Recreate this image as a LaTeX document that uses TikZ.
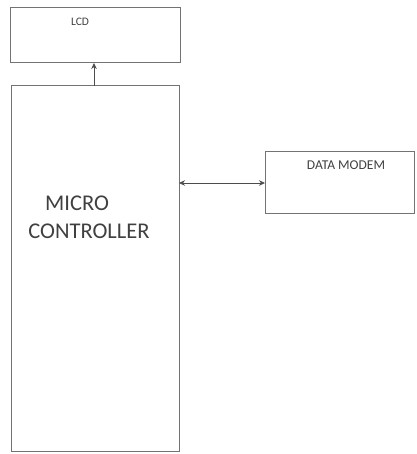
\documentclass[tikz,border=0pt]{standalone}
\usepackage{fontspec}
\setmainfont{Carlito}
\usetikzlibrary{arrows.meta}
\begin{document}
\begin{tikzpicture}[x=1pt,y=-1pt,
  blk/.style={draw=black!55,line width=1pt},
  lbl/.style={text=black!75,inner sep=0pt},
  conn/.style={draw=black!70,line width=0.6pt,-{Stealth[length=6pt,width=5.5pt]}},
  dconn/.style={draw=black!70,line width=0.6pt,{Stealth[length=6pt,width=5.5pt]}-{Stealth[length=6pt,width=5.5pt]}}]
\useasboundingbox (0,0) rectangle (416,454);
\path[blk] (10,8) rectangle (180,63);
\coordinate (lcdb) at (94,63);
\node[lbl,font=\fontsize{11.5}{12}\selectfont] (lcd) at (80,22) {LCD};
\path[blk] (11,86) rectangle (179,451);
\coordinate (mct) at (94,86);
\coordinate (mcr) at (179,183);
\node[lbl,font=\fontsize{22.5}{24}\selectfont] (micro) at (77,203) {MICRO};
\node[lbl,font=\fontsize{22.5}{24}\selectfont] (ctrl) at (89,231) {CONTROLLER};
\path[blk] (265,152) rectangle (414,213);
\coordinate (dml) at (265,183);
\node[lbl,font=\fontsize{13.5}{14}\selectfont] (dm) at (346,165) {DATA MODEM};
\draw[conn] (mct) -- (lcdb);
\draw[dconn] (mcr) -- (dml);
\end{tikzpicture}
\end{document}
